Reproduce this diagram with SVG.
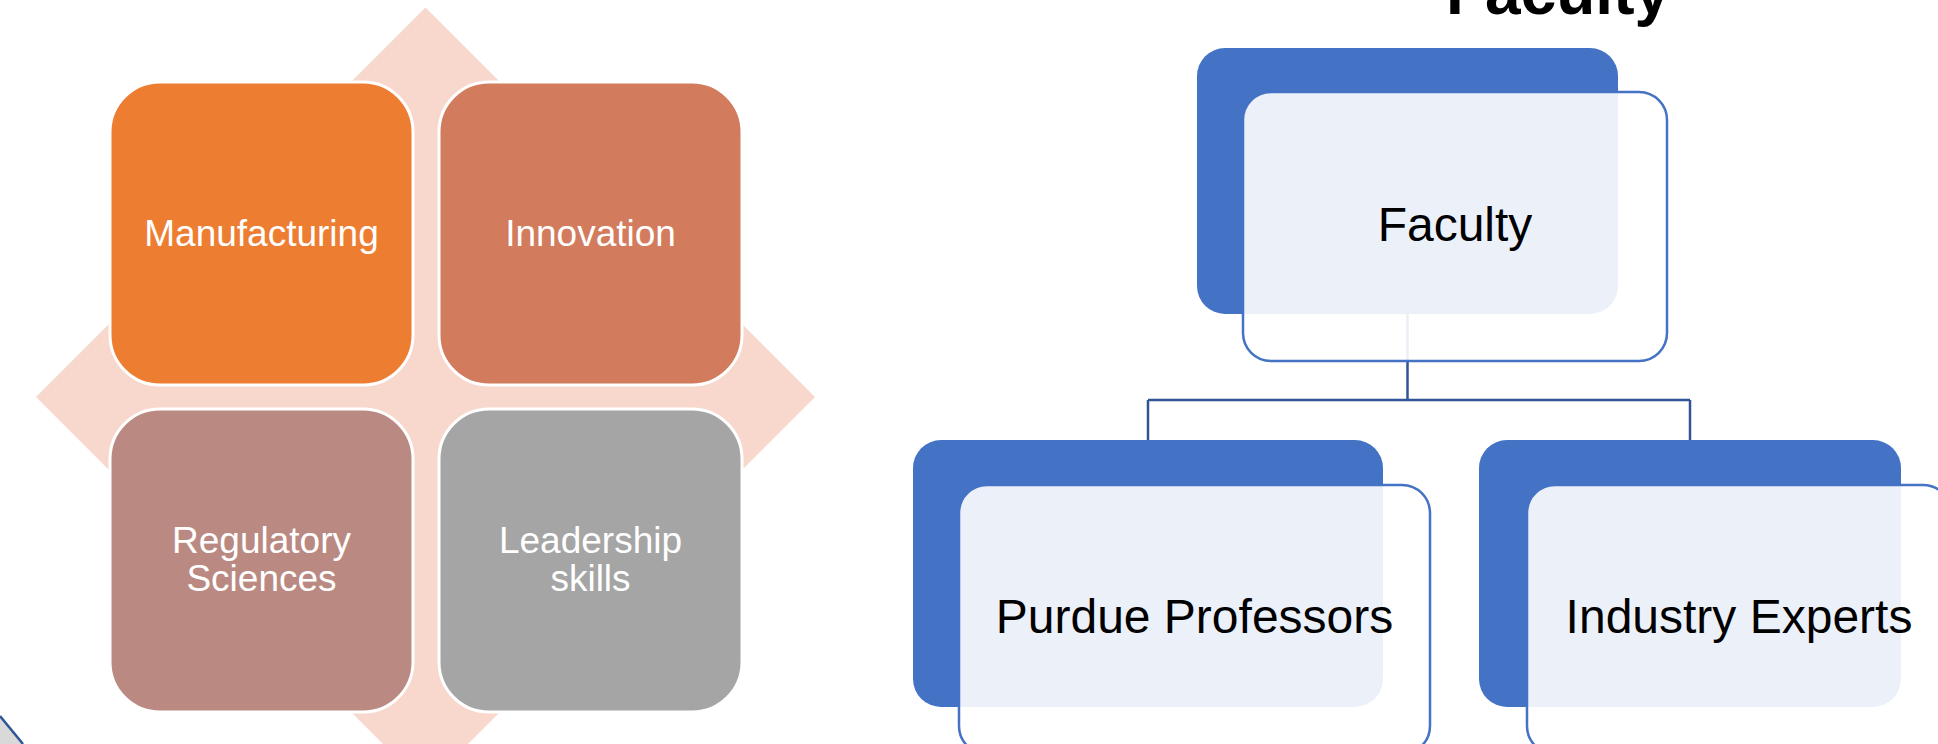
<svg xmlns="http://www.w3.org/2000/svg" width="1938" height="744" viewBox="0 0 1938 744">
<defs>
<style>
.t{font-family:"Liberation Sans",Arial,sans-serif}
.w{fill:#fff;font-size:37px;text-anchor:middle}
.k{fill:#000;font-size:48px;text-anchor:middle}
.tile{stroke:#fff;stroke-width:3}
.back{fill:#4472C4}
.front{fill:#fff;fill-opacity:0.9;stroke:#4472C4;stroke-width:2.5}
.conn{fill:none;stroke:#2F5597;stroke-width:2.5}
</style>
</defs>
<rect width="1938" height="744" fill="#fff"/>
<g id="bg-diamond">
<polygon points="425.5,7.5 815,397 425.5,786.5 36,397" fill="#F8D8CD"/>
</g>
<g id="corner-shape">
<polygon points="0,716 23,744 0,744" fill="#D9D9D9"/>
<line x1="0" y1="716" x2="23" y2="744" stroke="#2F5597" stroke-width="2.5"/>
</g>
<g id="title">
<text class="t" x="1558" y="14" font-size="64" font-weight="bold" text-anchor="middle" fill="#000">Faculty</text>
</g>
<g id="node-manufacturing">
<rect class="tile" x="110" y="82" width="303" height="303" rx="50" fill="#ED7D31"/>
<text class="t w" x="261.5" y="246">Manufacturing</text>
</g>
<g id="node-innovation">
<rect class="tile" x="439" y="82" width="303" height="303" rx="50" fill="#D27B5D"/>
<text class="t w" x="590.5" y="246">Innovation</text>
</g>
<g id="node-regulatory">
<rect class="tile" x="110" y="409" width="303" height="303" rx="50" fill="#BA8A82"/>
<text class="t w" x="261.5" y="553">Regulatory</text>
<text class="t w" x="261.5" y="591">Sciences</text>
</g>
<g id="node-leadership">
<rect class="tile" x="439" y="409" width="303" height="303" rx="50" fill="#A5A5A5"/>
<text class="t w" x="590.5" y="553">Leadership</text>
<text class="t w" x="590.5" y="591">skills</text>
</g>
<g id="node-faculty-back">
<rect class="back" x="1197" y="48" width="421" height="266" rx="28"/>
</g>
<g id="node-purdue-back">
<rect class="back" x="913" y="440" width="470" height="267" rx="28"/>
</g>
<g id="node-industry-back">
<rect class="back" x="1479" y="440" width="422" height="267" rx="28"/>
</g>
<g id="connectors">
<path class="conn" d="M1407.5,314 V400 M1148,400 H1690 M1148,400 V440 M1690,400 V440"/>
</g>
<g id="node-faculty">
<rect class="front" x="1243" y="92" width="424" height="269" rx="28"/>
<text class="t k" x="1455" y="241">Faculty</text>
</g>
<g id="node-purdue">
<rect class="front" x="959" y="485" width="471" height="269" rx="28"/>
<text class="t k" x="1194.5" y="633">Purdue Professors</text>
</g>
<g id="node-industry">
<rect class="front" x="1527" y="485" width="424" height="269" rx="28"/>
<text class="t k" x="1739" y="633">Industry Experts</text>
</g>
</svg>
